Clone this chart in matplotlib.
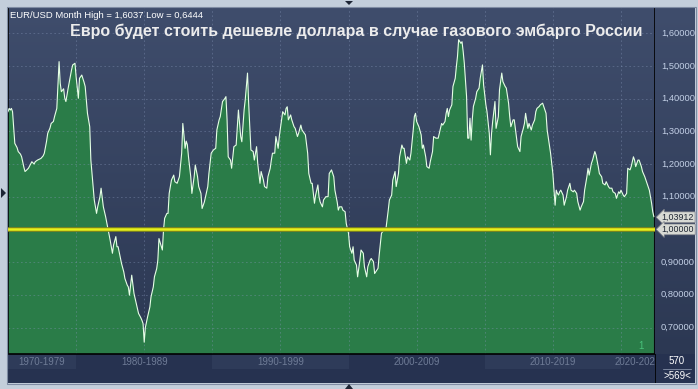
import numpy as np
import matplotlib.pyplot as plt
import matplotlib.patheffects as pe
from matplotlib.patches import Polygon, Rectangle
from matplotlib.colors import LinearSegmentedColormap

W, H = 698, 389

# month index since Jan 1975, monthly EUR/USD close
months = [
    0, 1, 2, 3, 4, 6, 8, 9, 11, 12, 14, 15, 16, 18, 20, 21, 23, 24, 26, 29,
    31, 32, 34, 35, 37, 38, 40, 41, 43, 44, 45, 46, 47, 49, 50, 51, 53, 55, 56, 57,
    59, 60, 62, 63, 65, 67, 68, 70, 72, 73, 75, 76, 78, 79, 81, 82, 84, 86, 88, 90,
    92, 93, 95, 96, 97, 98, 100, 102, 103, 105, 106, 107, 109, 111, 113, 115, 117, 118, 119, 120,
    121, 122, 123, 125, 126, 128, 129, 131, 132, 133, 134, 135, 136, 137, 138, 140, 141, 142, 144, 146,
    147, 149, 151, 153, 154, 155, 156, 157, 158, 159, 161, 162, 164, 165, 167, 168, 170, 171, 173, 174,
    176, 177, 179, 181, 183, 184, 186, 187, 189, 191, 192, 193, 194, 196, 197, 199, 201, 203, 205, 206,
    208, 209, 210, 211, 212, 213, 214, 216, 217, 219, 220, 222, 223, 225, 226, 228, 229, 231, 232, 233,
    235, 236, 238, 239, 241, 242, 244, 245, 246, 247, 249, 250, 252, 253, 255, 256, 258, 259, 261, 262,
    264, 265, 267, 268, 270, 271, 273, 274, 275, 277, 278, 280, 282, 283, 285, 287, 288, 290, 291, 292,
    294, 295, 297, 298, 300, 301, 303, 304, 305, 307, 308, 310, 311, 313, 314, 316, 317, 319, 320, 322,
    323, 325, 326, 327, 329, 330, 332, 333, 335, 336, 338, 339, 341, 342, 344, 345, 347, 348, 349, 351,
    352, 354, 355, 357, 358, 359, 360, 362, 364, 365, 366, 368, 369, 371, 372, 374, 375, 377, 379, 380,
    382, 383, 385, 386, 387, 388, 389, 391, 392, 394, 395, 396, 397, 399, 400, 401, 402, 404, 405, 406,
    407, 408, 409, 410, 412, 413, 415, 416, 418, 419, 421, 422, 424, 425, 426, 427, 429, 430, 432, 433,
    435, 436, 438, 439, 441, 442, 443, 445, 446, 448, 449, 451, 452, 454, 455, 456, 458, 459, 461, 462,
    464, 465, 466, 468, 469, 471, 472, 474, 475, 477, 478, 480, 481, 482, 483, 484, 485, 486, 487, 489,
    490, 492, 493, 495, 496, 498, 499, 501, 502, 504, 505, 507, 508, 510, 511, 512, 514, 515, 517, 518,
    520, 521, 523, 524, 526, 527, 529, 530, 532, 533, 535, 536, 538, 539, 540, 542, 543, 545, 546, 548,
    549, 551, 552, 553, 555, 556, 558, 559, 561, 562, 564, 565, 567, 568, 569,
]
eurusd = [
    1.360, 1.370, 1.365, 1.370, 1.360, 1.263, 1.250, 1.238, 1.230, 1.222, 1.190, 1.177, 1.180, 1.187, 1.200, 1.207, 1.200, 1.207, 1.212, 1.217,
    1.225, 1.233, 1.270, 1.294, 1.310, 1.324, 1.330, 1.345, 1.370, 1.440, 1.513, 1.447, 1.421, 1.430, 1.401, 1.391, 1.432, 1.470, 1.488, 1.503,
    1.508, 1.467, 1.401, 1.462, 1.472, 1.450, 1.437, 1.355, 1.314, 1.212, 1.131, 1.090, 1.049, 1.069, 1.100, 1.126, 1.069, 1.039, 1.003, 0.967,
    0.927, 0.952, 0.978, 0.947, 0.947, 0.930, 0.896, 0.870, 0.850, 0.830, 0.824, 0.799, 0.860, 0.804, 0.773, 0.743, 0.730, 0.722, 0.712, 0.655,
    0.700, 0.717, 0.733, 0.763, 0.794, 0.824, 0.855, 0.880, 0.906, 0.972, 0.960, 0.947, 0.937, 0.998, 1.034, 1.049, 1.049, 1.110, 1.151, 1.166,
    1.146, 1.141, 1.161, 1.233, 1.324, 1.289, 1.248, 1.270, 1.259, 1.222, 1.161, 1.110, 1.161, 1.197, 1.161, 1.131, 1.110, 1.064, 1.084, 1.100,
    1.131, 1.171, 1.233, 1.243, 1.248, 1.304, 1.335, 1.345, 1.391, 1.400, 1.406, 1.335, 1.222, 1.212, 1.187, 1.253, 1.258, 1.365, 1.284, 1.268,
    1.365, 1.396, 1.437, 1.478, 1.386, 1.314, 1.243, 1.238, 1.212, 1.253, 1.202, 1.141, 1.177, 1.151, 1.131, 1.126, 1.161, 1.187, 1.212, 1.233,
    1.233, 1.284, 1.248, 1.284, 1.335, 1.360, 1.350, 1.370, 1.375, 1.335, 1.350, 1.335, 1.314, 1.309, 1.284, 1.294, 1.319, 1.304, 1.294, 1.289,
    1.233, 1.171, 1.141, 1.141, 1.080, 1.105, 1.136, 1.100, 1.084, 1.069, 1.090, 1.100, 1.100, 1.171, 1.182, 1.161, 1.120, 1.084, 1.059, 1.069,
    1.069, 1.059, 1.054, 1.018, 0.988, 0.947, 0.927, 0.947, 0.906, 0.891, 0.855, 0.906, 0.937, 0.927, 0.886, 0.855, 0.886, 0.906, 0.911, 0.901,
    0.865, 0.876, 0.881, 0.921, 0.988, 0.993, 0.998, 1.003, 1.059, 1.090, 1.105, 1.151, 1.177, 1.131, 1.171, 1.222, 1.258, 1.248, 1.248, 1.202,
    1.222, 1.212, 1.233, 1.304, 1.345, 1.355, 1.330, 1.314, 1.289, 1.248, 1.258, 1.222, 1.192, 1.187, 1.207, 1.238, 1.284, 1.279, 1.279, 1.294,
    1.324, 1.319, 1.330, 1.355, 1.370, 1.345, 1.365, 1.381, 1.437, 1.462, 1.498, 1.529, 1.580, 1.569, 1.574, 1.544, 1.508, 1.406, 1.279, 1.279,
    1.340, 1.273, 1.335, 1.376, 1.401, 1.421, 1.432, 1.462, 1.503, 1.442, 1.381, 1.360, 1.294, 1.228, 1.294, 1.330, 1.391, 1.309, 1.345, 1.427,
    1.478, 1.452, 1.437, 1.432, 1.386, 1.345, 1.314, 1.335, 1.335, 1.279, 1.253, 1.238, 1.284, 1.309, 1.324, 1.355, 1.309, 1.324, 1.304, 1.319,
    1.335, 1.360, 1.370, 1.376, 1.381, 1.386, 1.376, 1.355, 1.304, 1.258, 1.233, 1.171, 1.120, 1.074, 1.120, 1.110, 1.105, 1.115, 1.120, 1.105,
    1.074, 1.100, 1.120, 1.141, 1.120, 1.115, 1.120, 1.110, 1.085, 1.059, 1.069, 1.085, 1.120, 1.161, 1.187, 1.166, 1.202, 1.212, 1.238, 1.228,
    1.192, 1.171, 1.161, 1.141, 1.136, 1.146, 1.131, 1.126, 1.126, 1.115, 1.110, 1.095, 1.115, 1.110, 1.120, 1.105, 1.100, 1.110, 1.187, 1.182,
    1.192, 1.222, 1.212, 1.192, 1.212, 1.212, 1.192, 1.177, 1.161, 1.151, 1.131, 1.120, 1.080, 1.054, 1.039,
]

yticks = [0.7, 0.8, 0.9, 1.0, 1.1, 1.2, 1.3, 1.4, 1.5, 1.6]
decades = ["1970-1979", "1980-1989", "1990-1999", "2000-2009", "2010-2019", "2020-2029"]
decade_start = [-60, 60, 180, 300, 420, 540]   # months since Jan 1975
last_price = 1.03912
parity = 1.0
n_bars = 570
title = "Евро будет стоить дешевле доллара в случае газового эмбарго России"
info = "EUR/USD Month High = 1,6037 Low = 0,6444"

plt.rcParams['font.family'] = ['Liberation Sans', 'DejaVu Sans']

def box(x0, y0, x1, y1):
    # pixel box -> figure fraction rect
    return [x0 / W, 1 - y1 / H, (x1 - x0) / W, (y1 - y0) / H]

def fmt(v):
    return f"{v:.5f}".replace('.', ',')

fig = plt.figure(figsize=(W / 100, H / 100), dpi=100)
fig.patch.set_facecolor('#c3cedb')

YLO, YHI = 0.619, 1.677
XLO, XHI = 0, n_bars
navy = LinearSegmentedColormap.from_list('navy', ['#3f4d6c', '#2c3853'])
grad = np.linspace(0, 1, 256).reshape(-1, 1)

#Grafico principal
ax = fig.add_axes(box(8, 8, 655, 354))
ax.imshow(grad, cmap=navy, extent=[XLO, XHI, YLO, YHI], aspect='auto', zorder=0)
ax.fill_between(months, eurusd, YLO - 1, color='#2a7c48', lw=0, zorder=2)
ax.plot(months, eurusd, color='#e6ffe6', lw=0.8, zorder=3)
for y in yticks:
    ax.axhline(y, color='#8696b8', alpha=0.45, lw=0.6, ls=(0, (2, 3)), zorder=2.5)
for m in range(60, n_bars, 60):
    ax.axvline(m, color='#8696b8', alpha=0.45, lw=0.6, ls=(0, (2, 3)), zorder=2.5)
ax.axhline(parity, color='#e8f21a', lw=1.8, zorder=4,
           path_effects=[pe.Stroke(linewidth=3.4, foreground='#82861a'), pe.Normal()])
ax.set_xlim(XLO, XHI)
ax.set_ylim(YLO, YHI)
ax.set_xticks([])
ax.set_yticks([])
ax.spines['top'].set_visible(False)
for s in ['left', 'right', 'bottom']:
    ax.spines[s].set_color('black')
    ax.spines[s].set_linewidth(1.2)
ax.text(0.978, 0.01, "1", transform=ax.transAxes, color='#49c27a', fontsize=7, ha='center', va='bottom')

#Escala derecha
ax_r = fig.add_axes(box(655, 8, 695, 354))
ax_r.imshow(grad, cmap=navy, extent=[0, 1, YLO, YHI], aspect='auto', zorder=0)
ax_r.set_xlim(0, 1)
ax_r.set_ylim(YLO, YHI)
ax_r.axis('off')
for y in yticks:
    if y == parity:
        continue
    ax_r.text(0.15, y, fmt(y), color='#c3d0e6', fontsize=6.7, va='center', ha='left')
for v in [last_price, parity]:
    ax_r.text(0.17, v - 0.002 if v != parity else v, fmt(v), color='#1e2633', fontsize=6.4,
              va='center', ha='left',
              bbox=dict(boxstyle='larrow,pad=0.1', fc='#d8dad4', ec='#7d8088', lw=0.5))

#Eje de tiempo
ax_b = fig.add_axes(box(8, 354, 655, 383))
ax_b.set_facecolor('#263250')
ax_b.set_xlim(XLO, XHI)
ax_b.set_ylim(0, 1)
for i, (lab, d0) in enumerate(zip(decades, decade_start)):
    if i % 2 == 0:
        ax_b.add_patch(Rectangle((d0, 0.48), 120, 0.52, color='#2e3b59', lw=0))
    lo, hi = max(d0, XLO), min(d0 + 120, XHI)
    t = ax_b.text((lo + hi) / 2, 0.72, lab, color='#6e7b96', fontsize=7, ha='center', va='center')
    t.set_clip_on(True)
ax_b.set_xticks([])
ax_b.set_yticks([])
for s in ax_b.spines.values():
    s.set_visible(False)
ax_b.axhline(1, color='black', lw=1.2)

ax_c = fig.add_axes(box(655, 354, 695, 383))
ax_c.set_facecolor('#263250')
ax_c.set_xlim(0, 1)
ax_c.set_ylim(0, 1)
ax_c.set_xticks([])
ax_c.set_yticks([])
for s in ax_c.spines.values():
    s.set_visible(False)
ax_c.axvline(0, color='black', lw=1.2)
ax_c.text(0.55, 0.75, str(n_bars), color='white', fontsize=7, ha='center', va='center')
ax_c.plot([0.2, 0.9], [0.5, 0.5], color='#9aa6bb', lw=0.5)
ax_c.text(0.55, 0.25, f">{n_bars - 1}<", color='white', fontsize=7, ha='center', va='center')

#Textos
fig.text(10 / W, 1 - 15 / H, info, color='white', fontsize=6.8, va='center', ha='left')
fig.text(356 / W, 1 - 31 / H, title, color='#ececec', fontsize=11.5, fontweight='bold',
         va='center', ha='center')

#Marco y flechas
fig.add_artist(Rectangle((7 / W, 1 - 384 / H), 689 / W, 377 / H, transform=fig.transFigure,
                         fill=False, ec='#7f8ca3', lw=0.8))
def tri(pts):
    fig.add_artist(Polygon([(x / W, 1 - y / H) for x, y in pts], closed=True,
                           transform=fig.transFigure, color='#1d2535', lw=0))
tri([(1, 188), (1, 198), (6, 193)])
tri([(345, 1), (353, 1), (349, 5)])
tri([(345, 389), (353, 389), (349, 384)])

fig.savefig('out.png', dpi=100, facecolor=fig.get_facecolor())
